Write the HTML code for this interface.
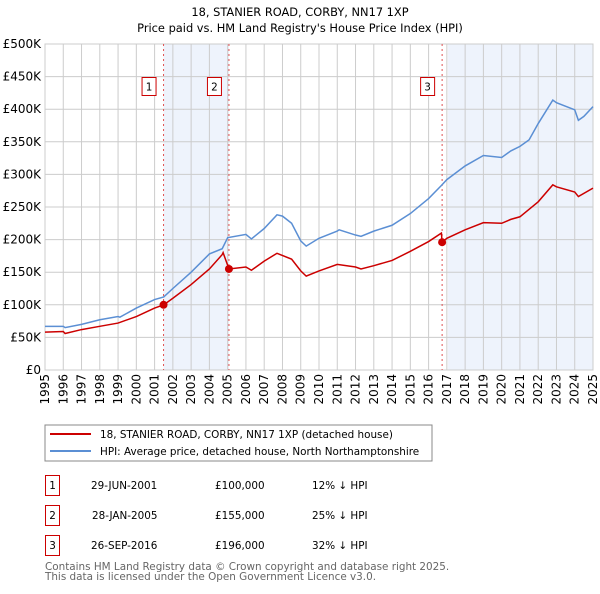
<!DOCTYPE html>
<html><head><meta charset="utf-8"><style>
body{margin:0;background:#fff;font-family:"DejaVu Sans","Liberation Sans",sans-serif}
svg text{font-family:"DejaVu Sans","Liberation Sans",sans-serif}
</style></head><body>
<svg id="chart" width="600" height="590" viewBox="0 0 600 590">
<text x="300" y="16" text-anchor="middle" font-size="11.4">18, STANIER ROAD, CORBY, NN17 1XP</text>
<text x="300" y="32" text-anchor="middle" font-size="11.4">Price paid vs. HM Land Registry's House Price Index (HPI)</text>
<g id="plot"></g>
<g>
<rect x="45" y="425" width="387" height="36" fill="#fff" stroke="#888"/>
<line x1="50" y1="434" x2="91" y2="434" stroke="#cc0000" stroke-width="2"/>
<text x="100" y="438" font-size="10.4">18, STANIER ROAD, CORBY, NN17 1XP (detached house)</text>
<line x1="50" y1="451" x2="91" y2="451" stroke="#5b8fd4" stroke-width="2"/>
<text x="100" y="455" font-size="10.4">HPI: Average price, detached house, North Northamptonshire</text>
</g>
<g font-size="10.4">
<rect x="45.5" y="475.5" width="14" height="20" fill="#fff" stroke="#cc0000"/><text x="52.5" y="489" text-anchor="middle">1</text>
<text x="91" y="489">29-JUN-2001</text><text x="215" y="489">£100,000</text><text x="312" y="489">12% ↓ HPI</text>
<rect x="45.5" y="505.5" width="14" height="20" fill="#fff" stroke="#cc0000"/><text x="52.5" y="519" text-anchor="middle">2</text>
<text x="92" y="519">28-JAN-2005</text><text x="215" y="519">£155,000</text><text x="312" y="519">25% ↓ HPI</text>
<rect x="45.5" y="535.5" width="14" height="20" fill="#fff" stroke="#cc0000"/><text x="52.5" y="549" text-anchor="middle">3</text>
<text x="91" y="549">26-SEP-2016</text><text x="215" y="549">£196,000</text><text x="312" y="549">32% ↓ HPI</text>
</g>
<text x="45" y="570" font-size="10.4" fill="#666">Contains HM Land Registry data © Crown copyright and database right 2025.</text>
<text x="45" y="580" font-size="10.4" fill="#666">This data is licensed under the Open Government Licence v3.0.</text>
</svg>
<script>
const hpiYears=[1995,1996,1996.1,1997,1998,1999,1999.1,2000,2001,2001.5,2002,2003,2004,2004.7,2005,2006,2006.3,2007,2007.7,2008,2008.5,2009,2009.3,2010,2011,2011.1,2012,2012.3,2013,2014,2015,2016,2016.7,2017,2018,2019,2020,2020.5,2021,2021.5,2022,2022.8,2023,2024,2024.2,2024.5,2025];
const hpiValues=[67,67,65,70,77,82,81,95,108,112,125,150,178,186,203,208,201,217,238,236,225,198,190,202,213,215,207,205,213,222,240,263,283,292,313,329,326,336,343,353,378,414,410,399,383,389,404];
const redYears=[1995,1996,1996.1,1997,1998,1999,2000,2001,2001.5,2002,2003,2004,2004.7,2004.75,2005.07,2006,2006.3,2007,2007.7,2008.5,2009,2009.3,2010,2011,2012,2012.3,2013,2014,2015,2016,2016.7,2016.74,2017,2018,2019,2020,2020.5,2021,2022,2022.8,2023,2024,2024.2,2025];
const redValues=[58,59,56,62,67,72,82,95,100,110,131,155,177,180,155,158,153,167,179,170,152,144,152,162,158,155,160,168,182,197,210,196,202,215,226,225,231,235,258,284,281,273,266,279];
const saleYears=[2001.49,2005.07,2016.74];
const saleValues=[100,155,196];
const saleLabels=["1","2","3"];
const yTicks=[0,50,100,150,200,250,300,350,400,450,500];
const yTickLabels=["£0","£50K","£100K","£150K","£200K","£250K","£300K","£350K","£400K","£450K","£500K"];
const xTicks=[1995,1996,1997,1998,1999,2000,2001,2002,2003,2004,2005,2006,2007,2008,2009,2010,2011,2012,2013,2014,2015,2016,2017,2018,2019,2020,2021,2022,2023,2024,2025];

const L=45,R=593,T=44,B=370,X0=1995,X1=2025,YMAX=500;
const xs=y=>L+(y-X0)/(X1-X0)*(R-L);
const ys=v=>B-v/YMAX*(B-T);
const NS="http://www.w3.org/2000/svg";
const g=document.getElementById('plot');
function mk(tag,attrs,parent){const e=document.createElementNS(NS,tag);for(const k in attrs)e.setAttribute(k,attrs[k]);(parent||g).appendChild(e);return e;}

const bg=mk('rect',{x:L,y:T,width:R-L,height:B-T,fill:'#fff'});


const sh1=mk('rect',{x:xs(saleYears[0]),y:T,width:xs(saleYears[1])-xs(saleYears[0]),height:B-T,fill:'#eef3fc'});


const sh2=mk('rect',{x:xs(2017.07),y:T,width:R-xs(2017.07),height:B-T,fill:'#eef3fc'});



yTicks.forEach((t,i)=>{
  const ln=mk('line',{x1:L,x2:R,y1:ys(t),y2:ys(t),stroke:'#ccc','stroke-width':1});
  
  
  const tx=mk('text',{x:L-4,y:ys(t)+4,'text-anchor':'end','font-size':12});
  
  
  tx.textContent=yTickLabels[i];
});
xTicks.forEach(t=>{
  const ln=mk('line',{x1:xs(t),x2:xs(t),y1:T,y2:B,stroke:'#ccc','stroke-width':1});
  
  
  const tx=mk('text',{x:0,y:0,'text-anchor':'end','font-size':12,transform:`translate(${xs(t)+4},${B+4}) rotate(-90)`});
  
  
  tx.textContent=t;
});
const fr=mk('rect',{x:L,y:T,width:R-L,height:B-T,fill:'none',stroke:'#ccc'});



saleYears.forEach((s,i)=>{
  const ln=mk('line',{x1:xs(s),x2:xs(s),y1:T,y2:B,stroke:'#e05050','stroke-width':1,'stroke-dasharray':'2,3'});
  
  
});

const hp=mk('polyline',{points:hpiYears.map((y,i)=>xs(y)+','+ys(hpiValues[i])).join(' '),fill:'none',stroke:'#5b8fd4','stroke-width':1.5});


const rp=mk('polyline',{points:redYears.map((y,i)=>xs(y)+','+ys(redValues[i])).join(' '),fill:'none',stroke:'#cc0000','stroke-width':1.5});



saleYears.forEach((s,i)=>{
  const c=mk('circle',{cx:xs(s),cy:ys(saleValues[i]),r:4,fill:'#cc0000'});
  
  
  const bx=mk('rect',{x:xs(s)-21.5,y:77.5,width:14,height:18,fill:'#fff',stroke:'#cc0000'});
  
  
  const tx=mk('text',{x:xs(s)-14.5,y:90.5,'text-anchor':'middle','font-size':10.4});
  
  
  tx.textContent=saleLabels[i];
});
</script>
</body></html>
